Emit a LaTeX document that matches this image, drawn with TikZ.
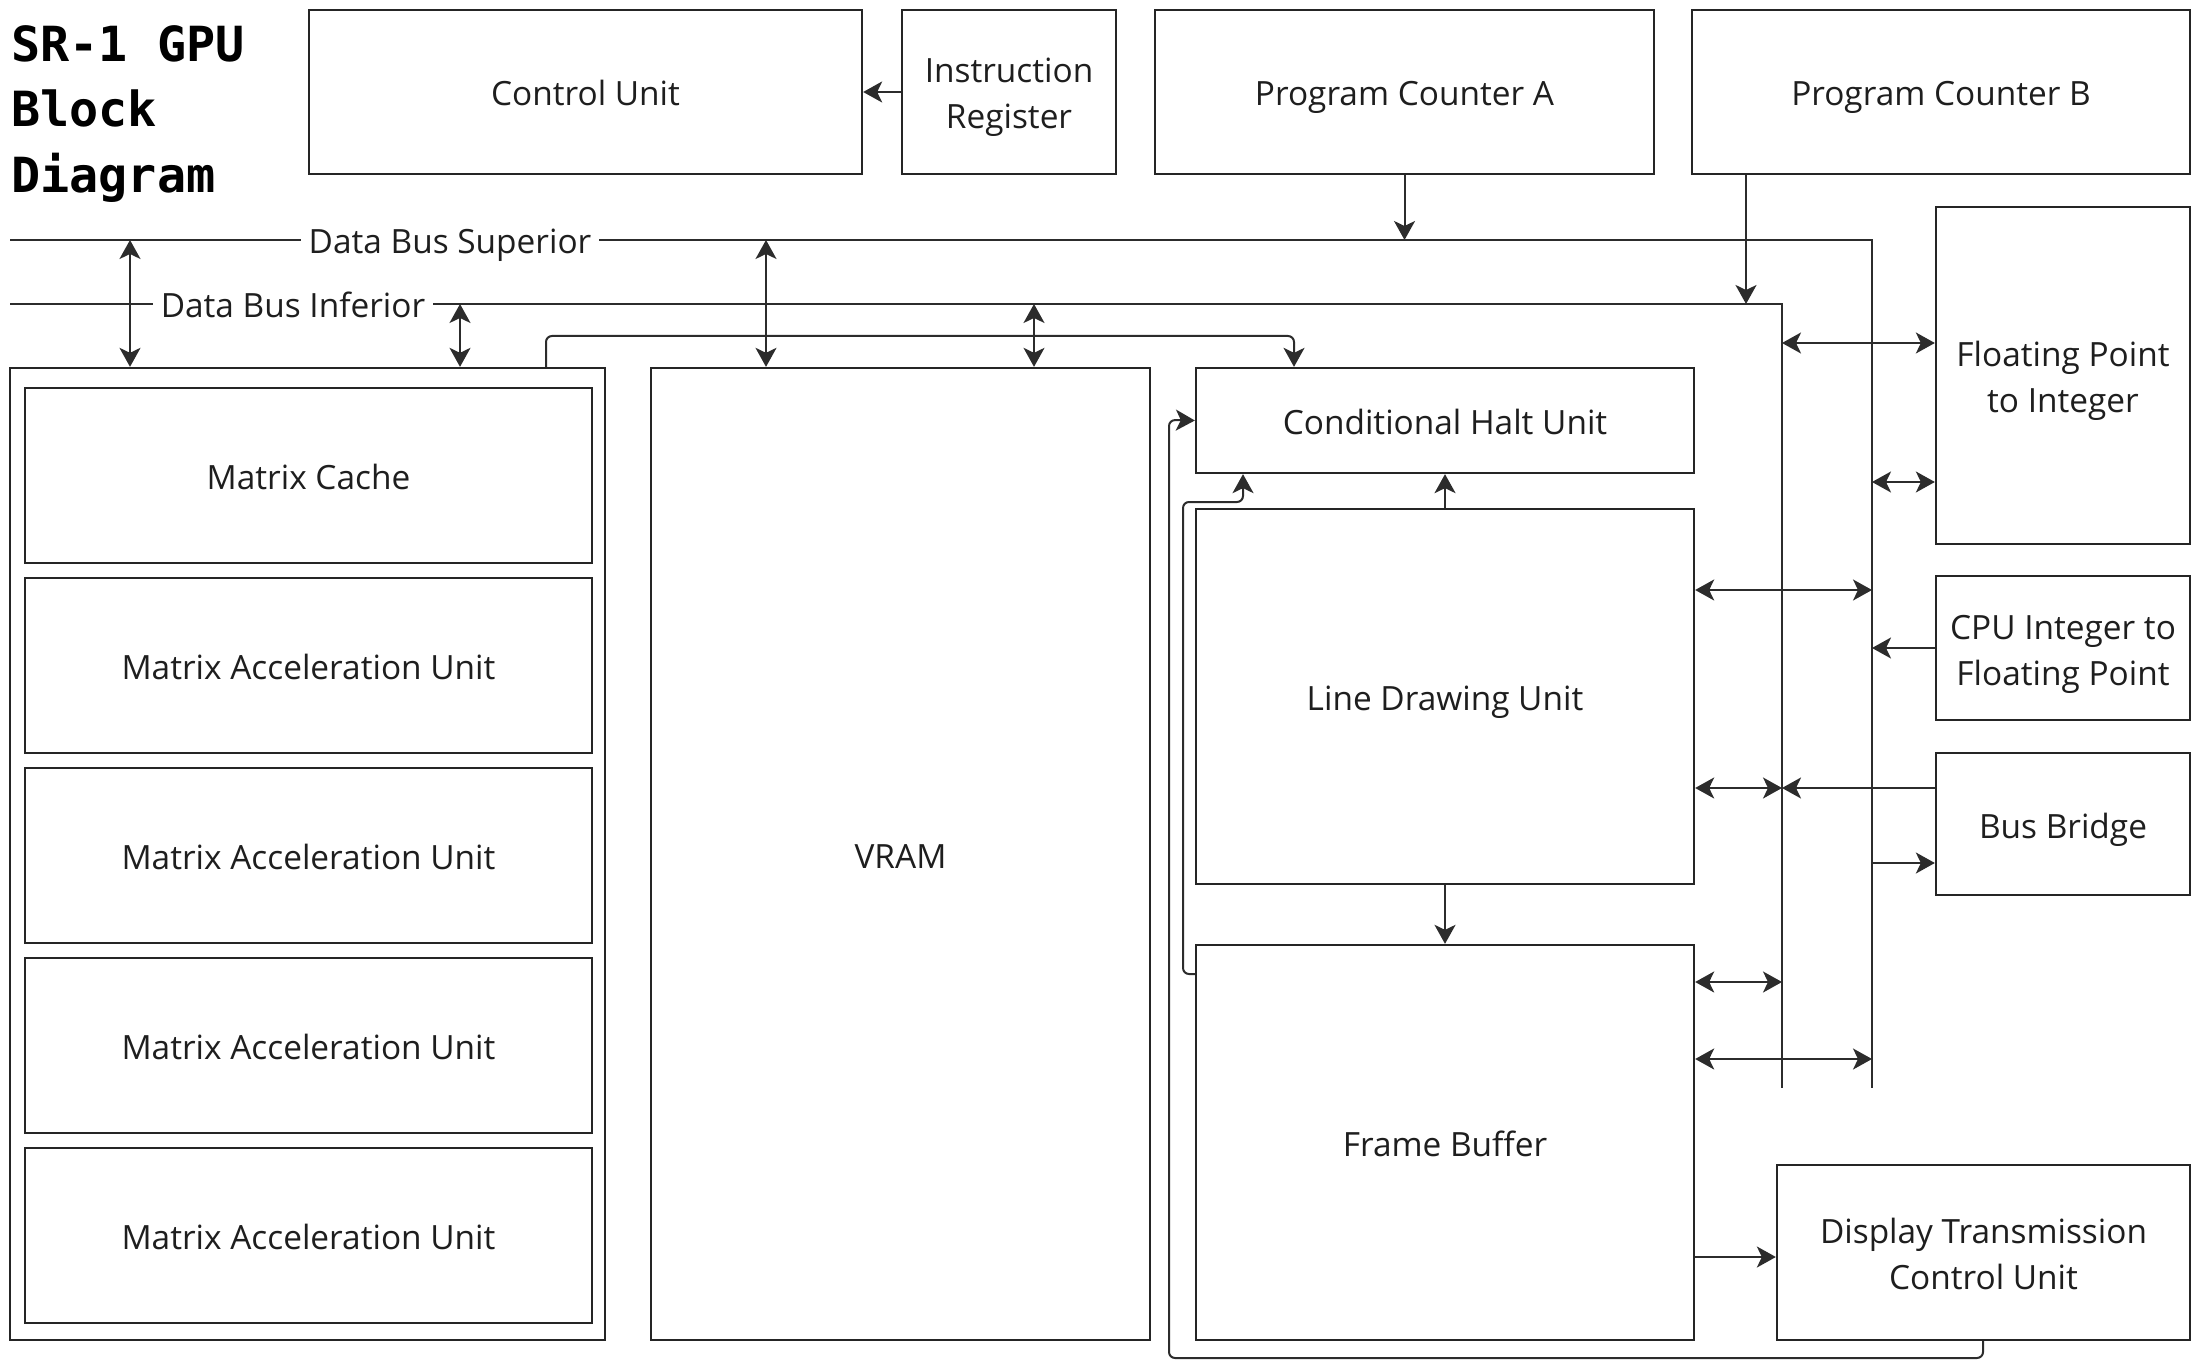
\documentclass[tikz,border=0pt]{standalone}
\usepackage{fontspec}
\setmainfont{Open Sans}
\newfontfamily\titlefont{DejaVu Sans Mono}
\usetikzlibrary{arrows.meta}
\definecolor{boxcol}{HTML}{252525}
\definecolor{concol}{HTML}{2C2C2C}
\definecolor{txtcol}{HTML}{1E1E1E}
\newcommand\lblfont{\fontsize{16.7}{23}\selectfont}
\newcommand\lnstrut{\rule[-4.5pt]{0pt}{23pt}}
\newcommand\bx[6]{\node[blk, minimum width={(#4-#2)*0.5pt}, minimum height={(#5-#3)*0.5pt}] (#1) at ({(#2+#4)/2},{(#3+#5)/2}) {#6};}
\begin{document}
\begin{tikzpicture}[x=0.5pt,y=-0.5pt,
  blk/.style={draw=boxcol, line width=1.15pt, inner sep=0pt, align=center, font=\lblfont, text=txtcol},
  con/.style={draw=concol, line width=1pt},
  buslbl/.style={fill=white, inner xsep=4pt, inner ysep=0pt, font=\lblfont, text=txtcol},
  ttl/.style={anchor=base west, inner sep=0pt, font=\titlefont\bfseries\fontsize{24.2}{30}\selectfont, text=black},
  >={Stealth[length=9.5pt,width=10.5pt,inset=2.5pt]}]
\fill[white] (0,0) rectangle (2203,1363);
\useasboundingbox (0,0) rectangle (2203,1363);

% title
\node[ttl] (t1) at (11,62) {SR-1 GPU};
\node[ttl] (t2) at (11,127) {Block};
\node[ttl] (t3) at (11,193) {Diagram};

% boxes
\bx{cu}{309}{10}{862}{174}{\lnstrut Control Unit}
\bx{ir}{902}{10}{1116}{174}{\lnstrut Instruction\\\lnstrut Register}
\bx{pca}{1155}{10}{1654}{174}{\lnstrut Program Counter A}
\bx{pcb}{1692}{10}{2190}{174}{\lnstrut Program Counter B}
\bx{outer}{10}{368}{605}{1340}{}
\bx{mc}{25}{388}{592}{563}{\lnstrut Matrix Cache}
\bx{mau1}{25}{578}{592}{753}{\lnstrut Matrix Acceleration Unit}
\bx{mau2}{25}{768}{592}{943}{\lnstrut Matrix Acceleration Unit}
\bx{mau3}{25}{958}{592}{1133}{\lnstrut Matrix Acceleration Unit}
\bx{mau4}{25}{1148}{592}{1323}{\lnstrut Matrix Acceleration Unit}
\bx{vram}{651}{368}{1150}{1340}{\lnstrut VRAM}
\bx{chu}{1196}{368}{1694}{473}{\lnstrut Conditional Halt Unit}
\bx{ldu}{1196}{509}{1694}{884}{\lnstrut Line Drawing Unit}
\bx{fb}{1196}{945}{1694}{1340}{\lnstrut Frame Buffer}
\bx{fp2i}{1936}{207}{2190}{544}{\lnstrut Floating Point\\\lnstrut to Integer}
\bx{i2f}{1936}{576}{2190}{720}{\lnstrut CPU Integer to\\\lnstrut Floating Point}
\bx{bb}{1936}{753}{2190}{895}{\lnstrut Bus Bridge}
\bx{dtcu}{1777}{1165}{2190}{1340}{\lnstrut Display Transmission\\\lnstrut Control Unit}

% buses
\coordinate (supL) at (10,240);
\coordinate (supR) at (1872,240);
\coordinate (supB) at (1872,1088);
\coordinate (infL) at (10,304);
\coordinate (infR) at (1782,304);
\coordinate (infB) at (1782,1088);
\draw[con] (supL) -- (supR) -- (supB);
\draw[con] (infL) -- (infR) -- (infB);
\node[buslbl] (supLbl) at (450,240) {\lnstrut Data Bus Superior};
\node[buslbl] (infLbl) at (293,304) {\lnstrut Data Bus Inferior};

% top connectors
\draw[con,->] (ir.west) -- (cu.east);
\draw[con,->] (pca.south) -- (pca.south |- supL);
\draw[con,->] (pcb.south -| 1746,0) -- (infL -| 1746,0);

\draw[con,<->] (supL -| 130,0) -- (outer.north -| 130,0);
\draw[con,<->] (infL -| 460,0) -- (outer.north -| 460,0);
\draw[con,<->] (supL -| 766,0) -- (vram.north -| 766,0);
\draw[con,<->] (infL -| 1034,0) -- (vram.north -| 1034,0);

% routed connectors
\draw[con,->,rounded corners=3pt] (outer.north -| 546,0) |- (1294,336) -- (chu.north -| 1294,0);
\draw[con,->,rounded corners=3pt] (dtcu.south -| 1983,0) -- (1983,1358) -| (1169,420) -- (chu.west);
\draw[con,->,rounded corners=3pt] (fb.west |- 0,974) -- (1183,974) |- (1243,502) -- (chu.south -| 1243,0);

\draw[con,->] (ldu.north) -- (chu.south);
\draw[con,->] (ldu.south) -- (fb.north);

% right side
\draw[con,<->] (infR |- 0,343) -- (fp2i.west |- 0,343);
\draw[con,<->] (supR |- 0,482) -- (fp2i.west |- 0,482);
\draw[con,<->] (ldu.east |- 0,590) -- (supR |- 0,590);
\draw[con,->] (i2f.west) -- (supR |- i2f.west);
\draw[con,<->] (ldu.east |- 0,788) -- (infR |- 0,788);
\draw[con,->] (bb.west |- 0,788) -- (infR |- 0,788);
\draw[con,->] (supR |- 0,863) -- (bb.west |- 0,863);
\draw[con,<->] (fb.east |- 0,982) -- (infR |- 0,982);
\draw[con,<->] (fb.east |- 0,1059) -- (supR |- 0,1059);
\draw[con,->] (fb.east |- 0,1257) -- (dtcu.west |- 0,1257);
\end{tikzpicture}
\end{document}
